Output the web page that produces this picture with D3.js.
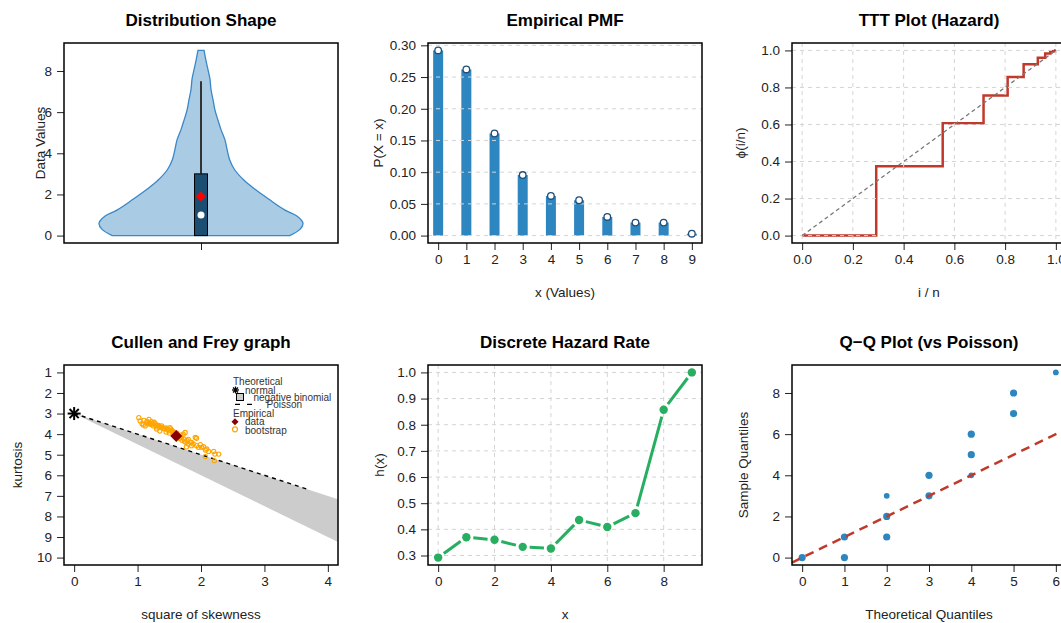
<!DOCTYPE html>
<html>
<head>
<meta charset="utf-8">
<script src="https://cdn.jsdelivr.net/npm/d3@7"></script>
<style>
  html, body { margin: 0; padding: 0; background: #fff; }
  svg { display: block; }
</style>
</head>
<body>
<div id="chart"></div>
<script>
// Six-panel discrete distribution summary (violin, PMF, TTT, Cullen-Frey,
// hazard, Q-Q), drawn in base-R style with d3.

// ─── data ───────────────────────────────────────────────────────────────
const violinValues = [0, 0.3, 0.6, 0.95, 1.25, 1.75, 2.25, 2.7, 3.2, 3.7, 4.2, 4.65, 5.15, 5.6, 6.1, 6.6, 7.1, 7.6, 8.05, 8.5, 9.0];
const violinDensity = [0.87, 0.97, 1.0, 0.94, 0.82, 0.67, 0.53, 0.42, 0.33, 0.28, 0.255, 0.235, 0.196, 0.167, 0.137, 0.118, 0.098, 0.088, 0.069, 0.049, 0.03];
const boxQuartiles = [0, 1, 3];
const whiskerRange = [3, 7.5];
const sampleMean = 1.9;

const pmfX = [0, 1, 2, 3, 4, 5, 6, 7, 8, 9];
const pmfP = [0.292, 0.262, 0.161, 0.0955, 0.0625, 0.0557, 0.0294, 0.0205, 0.0205, 0.003];

const tttU = [0, 0.292, 0.554, 0.715, 0.810, 0.873, 0.929, 0.958, 0.978, 0.997, 1.0];
const tttPhi = [0, 0.374, 0.606, 0.757, 0.856, 0.925, 0.960, 0.983, 0.995, 1.0, 1.0];

const poissonSkew2 = [0, 3.67];
const poissonKurt = [3, 6.67];
const nbinomSkew2 = [0, 4.5, 4.5];
const nbinomKurt = [3, 7.5, 9.75];
const normalPoint = [0, 3];
const dataPoint = [1.61, 4.09];
const bootSkew2 = [1.02, 1.04, 1.10, 1.07, 1.14, 1.18, 1.22, 1.12, 1.20, 1.25, 1.28, 1.30, 1.33, 1.36, 1.38, 1.35, 1.41, 1.46, 1.49, 1.51,
  1.54, 1.56, 1.59, 1.64, 1.69, 1.72, 1.75, 1.73, 1.78, 1.80, 1.83, 1.85, 1.88, 1.91, 1.93, 1.96, 1.99, 2.01, 2.04, 2.07,
  2.09, 2.12, 2.07, 2.20, 2.22, 2.28, 2.21, 1.09, 1.15, 1.19, 1.23, 1.27, 1.31, 1.34, 1.38, 1.42, 1.45, 1.48, 1.52, 1.55,
  1.58, 1.60, 1.62, 1.66, 1.68, 1.70, 1.74, 1.76, 1.50, 1.45, 1.30, 1.26, 1.16, 1.80, 1.77, 1.85, 1.93];
const bootKurt = [3.20, 3.36, 3.33, 3.49, 3.44, 3.28, 3.39, 3.60, 3.52, 3.60, 3.49, 3.65, 3.57, 3.68, 3.60, 3.85, 3.71, 3.76, 3.84, 3.68,
  3.81, 3.92, 4.00, 4.08, 4.16, 4.00, 3.92, 4.24, 4.32, 4.48, 4.40, 4.56, 4.48, 4.16, 4.56, 4.64, 4.51, 4.64, 4.61, 4.77,
  4.72, 4.84, 5.09, 4.84, 4.97, 4.97, 5.29, 3.55, 3.38, 3.45, 3.50, 3.55, 3.58, 3.62, 3.66, 3.74, 3.70, 3.78, 3.74, 3.86,
  3.90, 4.15, 3.95, 4.20, 4.05, 4.30, 4.35, 4.40, 3.95, 3.90, 3.75, 3.42, 3.50, 4.25, 4.62, 4.40, 4.20];

const hazardX = [0, 1, 2, 3, 4, 5, 6, 7, 8, 9];
const hazardH = [0.292, 0.370, 0.360, 0.333, 0.327, 0.436, 0.409, 0.462, 0.857, 1.0];

const qqTheo = [0, 1, 1, 2, 2, 2, 3, 3, 4, 4, 4, 5, 5, 6];
const qqSample = [0, 0, 1, 1, 2, 3, 3, 4, 4, 5, 6, 7, 8, 9];
const qqTies = [2, 2, 2, 2, 2, 1, 2, 2, 1, 2, 2, 2, 2, 1];

// ─── layout / style ─────────────────────────────────────────────────────
const WIDTH = 1061;
const HEIGHT = 623;
const COL_X = [0, 364, 728];
const ROW_Y = [0, 322];
const BOX = { left: 64, top: 43, width: 274, height: 200 };
const FONT = '"Liberation Sans", Arial, Helvetica, sans-serif';
const TICK_FS = 13.5;
const LAB_FS = 13.5;
const TITLE_FS = 17;
const GRID = "#d4d4d4";
const BLUE = "#2e86c1";
const RED = "#c0392b";
const GREEN = "#27ae60";

// R-style 4% axis padding
function pad(lo, hi) {
  const d = (hi - lo) * 0.04;
  return [lo - d, hi + d];
}

const svg = d3
  .select("#chart")
  .append("svg")
  .attr("width", WIDTH)
  .attr("height", HEIGHT)
  .attr("font-family", FONT);
svg.append("rect").attr("width", WIDTH).attr("height", HEIGHT).attr("fill", "#fff");

let clipCount = 0;

function makePanel(col, row, title) {
  const left = COL_X[col] + BOX.left;
  const top = ROW_Y[row] + BOX.top;
  const w = BOX.width;
  const h = BOX.height;
  const g = svg.append("g");
  const id = `clip${clipCount++}`;
  g.append("clipPath").attr("id", id).append("rect")
    .attr("x", left).attr("y", top).attr("width", w).attr("height", h);
  g.append("text")
    .attr("x", left + w / 2)
    .attr("y", ROW_Y[row] + 26)
    .attr("text-anchor", "middle")
    .attr("font-size", TITLE_FS)
    .attr("font-weight", "bold")
    .attr("fill", "#000")
    .text(title);
  const plot = g.append("g").attr("clip-path", `url(#${id})`);
  return { g, plot, left, top, w, h };
}

function drawAxes(p, x, y, xTicks, yTicks, xFmt, yFmt) {
  const ax = p.g.append("g")
    .attr("transform", `translate(0,${p.top + p.h})`)
    .call(d3.axisBottom(x).tickValues(xTicks).tickFormat(xFmt).tickSize(7).tickPadding(4));
  const ay = p.g.append("g")
    .attr("transform", `translate(${p.left},0)`)
    .call(d3.axisLeft(y).tickValues(yTicks).tickFormat(yFmt).tickSize(7).tickPadding(5));
  for (const a of [ax, ay]) {
    a.select(".domain").remove();
    a.attr("font-family", FONT).attr("font-size", TICK_FS);
    a.selectAll("line").attr("stroke", "#222");
    a.selectAll("text").attr("fill", "#222");
  }
}

function drawGrid(p, x, y, xTicks, yTicks) {
  const grid = p.plot.append("g")
    .attr("stroke", GRID)
    .attr("stroke-width", 1)
    .attr("stroke-dasharray", "4 4");
  grid.selectAll("line.gx").data(xTicks).join("line")
    .attr("class", "gx")
    .attr("x1", (d) => x(d)).attr("x2", (d) => x(d))
    .attr("y1", p.top).attr("y2", p.top + p.h);
  grid.selectAll("line.gy").data(yTicks).join("line")
    .attr("class", "gy")
    .attr("x1", p.left).attr("x2", p.left + p.w)
    .attr("y1", (d) => y(d)).attr("y2", (d) => y(d));
}

function drawFrame(p, xlab, ylab, ylabOffset) {
  p.g.append("rect")
    .attr("x", p.left).attr("y", p.top)
    .attr("width", p.w).attr("height", p.h)
    .attr("fill", "none").attr("stroke", "#000").attr("stroke-width", 1.5);
  if (xlab) {
    p.g.append("text")
      .attr("x", p.left + p.w / 2)
      .attr("y", p.top + p.h + 49)
      .attr("dy", "0.35em")
      .attr("text-anchor", "middle")
      .attr("font-size", LAB_FS)
      .attr("fill", "#222")
      .text(xlab);
  }
  if (ylab) {
    p.g.append("text")
      .attr("transform", `translate(${p.left - ylabOffset},${p.top + p.h / 2}) rotate(-90)`)
      .attr("dy", "0.35em")
      .attr("text-anchor", "middle")
      .attr("font-size", LAB_FS)
      .attr("fill", "#222")
      .text(ylab);
  }
}

function diamondPath(cx, cy, r) {
  return `M ${cx},${cy - r} L ${cx + r},${cy} L ${cx},${cy + r} L ${cx - r},${cy} Z`;
}

// ─── 1. violin ──────────────────────────────────────────────────────────
{
  const p = makePanel(0, 0, "Distribution Shape");
  const y = d3.scaleLinear().domain(pad(0, 9)).range([p.top + p.h, p.top]);
  const x = d3.scaleLinear().domain([-1, 1]).range([p.left, p.left + p.w]);
  const half = d3.scaleLinear().domain([0, 1]).range([0, 102]);
  const cx = x(0);
  const pts = violinValues.map((v, i) => ({ v, d: violinDensity[i] }));

  p.plot.append("path")
    .datum(pts)
    .attr("d", d3.area()
      .y((d) => y(d.v))
      .x0((d) => cx - half(d.d))
      .x1((d) => cx + half(d.d))
      .curve(d3.curveCatmullRom))
    .attr("fill", "#a9cbe3")
    .attr("stroke", "#3a87c8")
    .attr("stroke-width", 1.3);

  p.plot.append("line")
    .attr("x1", cx).attr("x2", cx)
    .attr("y1", y(whiskerRange[0])).attr("y2", y(whiskerRange[1]))
    .attr("stroke", "#333").attr("stroke-width", 2);
  p.plot.append("rect")
    .attr("x", cx - 6.5).attr("width", 13)
    .attr("y", y(boxQuartiles[2]))
    .attr("height", y(boxQuartiles[0]) - y(boxQuartiles[2]))
    .attr("fill", "#1c4e72").attr("stroke", "#000").attr("stroke-width", 1);
  p.plot.append("circle")
    .attr("cx", cx).attr("cy", y(boxQuartiles[1])).attr("r", 3.5)
    .attr("fill", "#fff");
  p.plot.append("path")
    .attr("d", diamondPath(cx, y(sampleMean), 5))
    .attr("fill", "#ff0000");

  drawAxes(p, x, y, [0], [0, 2, 4, 6, 8], () => "", d3.format("d"));
  drawFrame(p, null, "Data Values", 24);
}

// ─── 2. empirical PMF ───────────────────────────────────────────────────
{
  const p = makePanel(1, 0, "Empirical PMF");
  const x = d3.scaleLinear().domain(pad(0, 9)).range([p.left, p.left + p.w]);
  const y = d3.scaleLinear().domain(pad(0, d3.max(pmfP))).range([p.top + p.h, p.top]);
  const yTicks = [0, 0.05, 0.1, 0.15, 0.2, 0.25, 0.3];

  p.plot.selectAll("rect.bar").data(pmfX).join("rect")
    .attr("class", "bar")
    .attr("x", (d) => x(d) - 5)
    .attr("width", 10)
    .attr("y", (d, i) => y(pmfP[i]))
    .attr("height", (d, i) => y(0) - y(pmfP[i]))
    .attr("fill", BLUE);
  drawGrid(p, x, y, [], yTicks);
  p.plot.selectAll("circle.pt").data(pmfX).join("circle")
    .attr("class", "pt")
    .attr("cx", (d) => x(d))
    .attr("cy", (d, i) => y(pmfP[i]))
    .attr("r", 3.3)
    .attr("fill", "#fff")
    .attr("stroke", "#1f4e79")
    .attr("stroke-width", 1.3);

  drawAxes(p, x, y, pmfX, yTicks, d3.format("d"), d3.format(".2f"));
  drawFrame(p, "x (Values)", "P(X = x)", 50);
}

// ─── 3. TTT plot ────────────────────────────────────────────────────────
{
  const p = makePanel(2, 0, "TTT Plot (Hazard)");
  const x = d3.scaleLinear().domain(pad(0, 1)).range([p.left, p.left + p.w]);
  const y = d3.scaleLinear().domain(pad(0, 1)).range([p.top + p.h, p.top]);
  const ticks = [0, 0.2, 0.4, 0.6, 0.8, 1.0];

  p.plot.append("path")
    .datum(tttU.map((u, i) => [u, tttPhi[i]]))
    .attr("d", d3.line().x((d) => x(d[0])).y((d) => y(d[1])).curve(d3.curveStepAfter))
    .attr("fill", "none")
    .attr("stroke", RED)
    .attr("stroke-width", 2.5);
  drawGrid(p, x, y, ticks, ticks);
  p.plot.append("line")
    .attr("x1", x(0)).attr("y1", y(0))
    .attr("x2", x(1)).attr("y2", y(1))
    .attr("stroke", "#777")
    .attr("stroke-width", 1.3)
    .attr("stroke-dasharray", "4 3");

  drawAxes(p, x, y, ticks, ticks, d3.format(".1f"), d3.format(".1f"));
  drawFrame(p, "i / n", "\u03d5(i/n)", 52);
}

// ─── 4. Cullen and Frey ─────────────────────────────────────────────────
{
  const p = makePanel(0, 1, "Cullen and Frey graph");
  const x = d3.scaleLinear().domain(pad(0, 4)).range([p.left, p.left + p.w]);
  const y = d3.scaleLinear().domain(pad(1, 10)).range([p.top, p.top + p.h]);

  p.plot.append("path")
    .datum(nbinomSkew2.map((s, i) => [s, nbinomKurt[i]]))
    .attr("d", d3.line().x((d) => x(d[0])).y((d) => y(d[1])))
    .attr("fill", "#cccccc");
  p.plot.append("path")
    .datum(poissonSkew2.map((s, i) => [s, poissonKurt[i]]))
    .attr("d", d3.line().x((d) => x(d[0])).y((d) => y(d[1])))
    .attr("fill", "none")
    .attr("stroke", "#000")
    .attr("stroke-width", 1.4)
    .attr("stroke-dasharray", "4 4");

  p.plot.selectAll("circle.boot").data(bootSkew2).join("circle")
    .attr("class", "boot")
    .attr("cx", (d) => x(d))
    .attr("cy", (d, i) => y(bootKurt[i]))
    .attr("r", 2.1)
    .attr("fill", "none")
    .attr("stroke", "#ffa500")
    .attr("stroke-width", 1.1);

  p.plot.append("path")
    .attr("d", diamondPath(x(dataPoint[0]), y(dataPoint[1]), 6))
    .attr("fill", "#8b0000");

  // normal: pch 8 asterisk
  const ast = (g, cx, cy, r, sw) => {
    const a = r * Math.SQRT1_2;
    const segs = [[-r, 0, r, 0], [0, -r, 0, r], [-a, -a, a, a], [-a, a, a, -a]];
    g.append("g").attr("stroke", "#000").attr("stroke-width", sw)
      .selectAll("line").data(segs).join("line")
      .attr("x1", (d) => cx + d[0]).attr("y1", (d) => cy + d[1])
      .attr("x2", (d) => cx + d[2]).attr("y2", (d) => cy + d[3]);
  };
  ast(p.g, x(normalPoint[0]), y(normalPoint[1]), 6.5, 2);

  // legend
  const L = p.left, T = p.top;
  const lg = p.g.append("g").attr("font-size", 10).attr("fill", "#333");
  const lt = (dx, dy, s) => lg.append("text").attr("x", L + dx).attr("y", T + dy).text(s);
  lt(169, 20, "Theoretical");
  ast(lg, L + 171.5, T + 25, 3.5, 1.3);
  lt(181, 28.5, "normal");
  lg.append("rect").attr("x", L + 172.5).attr("y", T + 28.5).attr("width", 7).attr("height", 7)
    .attr("fill", "#ccc").attr("stroke", "#000").attr("stroke-width", 1);
  lt(189.5, 36, "negative binomial");
  lg.append("line").attr("x1", L + 171).attr("x2", L + 189).attr("y1", T + 39.3).attr("y2", T + 39.3)
    .attr("stroke", "#000").attr("stroke-width", 1.2).attr("stroke-dasharray", "5 7");
  lt(202.5, 43, "Poisson");
  lt(169, 52, "Empirical");
  lg.append("path").attr("d", diamondPath(L + 171, T + 56.7, 3.5)).attr("fill", "#8b0000");
  lt(181, 60, "data");
  lg.append("circle").attr("cx", L + 171).attr("cy", T + 64.3).attr("r", 2.5)
    .attr("fill", "none").attr("stroke", "#ffa500").attr("stroke-width", 1.2);
  lt(181, 68.5, "bootstrap");

  drawAxes(p, x, y, [0, 1, 2, 3, 4], d3.range(1, 11), d3.format("d"), d3.format("d"));
  drawFrame(p, "square of skewness", "kurtosis", 47);
}

// ─── 5. discrete hazard rate ────────────────────────────────────────────
{
  const p = makePanel(1, 1, "Discrete Hazard Rate");
  const x = d3.scaleLinear().domain(pad(0, 9)).range([p.left, p.left + p.w]);
  const y = d3.scaleLinear().domain(pad(d3.min(hazardH), 1)).range([p.top + p.h, p.top]);
  const xTicks = [0, 2, 4, 6, 8];
  const yTicks = [0.3, 0.4, 0.5, 0.6, 0.7, 0.8, 0.9, 1.0];

  drawGrid(p, x, y, xTicks, yTicks);

  // type = "b": segments stop short of the points
  const gap = 7;
  const segs = d3.pairs(hazardX.map((v, i) => [x(v), y(hazardH[i])])).map(([a, b]) => {
    const dx = b[0] - a[0], dy = b[1] - a[1];
    const len = Math.hypot(dx, dy);
    const ux = dx / len, uy = dy / len;
    return [a[0] + ux * gap, a[1] + uy * gap, b[0] - ux * gap, b[1] - uy * gap];
  });
  p.plot.selectAll("line.seg").data(segs).join("line")
    .attr("class", "seg")
    .attr("x1", (d) => d[0]).attr("y1", (d) => d[1])
    .attr("x2", (d) => d[2]).attr("y2", (d) => d[3])
    .attr("stroke", GREEN).attr("stroke-width", 3);
  p.plot.selectAll("circle.pt").data(hazardX).join("circle")
    .attr("class", "pt")
    .attr("cx", (d) => x(d))
    .attr("cy", (d, i) => y(hazardH[i]))
    .attr("r", 4.2)
    .attr("fill", GREEN);

  drawAxes(p, x, y, xTicks, yTicks, d3.format("d"), d3.format(".1f"));
  drawFrame(p, "x", "h(x)", 49);
}

// ─── 6. Q-Q vs Poisson ──────────────────────────────────────────────────
{
  const p = makePanel(2, 1, "Q\u2212Q Plot (vs Poisson)");
  const x = d3.scaleLinear().domain(pad(0, 6)).range([p.left, p.left + p.w]);
  const y = d3.scaleLinear().domain(pad(0, 9)).range([p.top + p.h, p.top]);
  const xd = x.domain();

  p.plot.selectAll("circle.pt").data(qqTheo).join("circle")
    .attr("class", "pt")
    .attr("cx", (d) => x(d))
    .attr("cy", (d, i) => y(qqSample[i]))
    .attr("r", (d, i) => (qqTies[i] > 1 ? 3.6 : 2.9))
    .attr("fill", BLUE);
  p.plot.append("line")
    .attr("x1", x(xd[0])).attr("y1", y(xd[0]))
    .attr("x2", x(xd[1])).attr("y2", y(xd[1]))
    .attr("stroke", RED)
    .attr("stroke-width", 2.5)
    .attr("stroke-dasharray", "9 6");

  drawAxes(p, x, y, [0, 1, 2, 3, 4, 5, 6], [0, 2, 4, 6, 8], d3.format("d"), d3.format("d"));
  drawFrame(p, "Theoretical Quantiles", "Sample Quantiles", 49);
}
</script>
</body>
</html>
